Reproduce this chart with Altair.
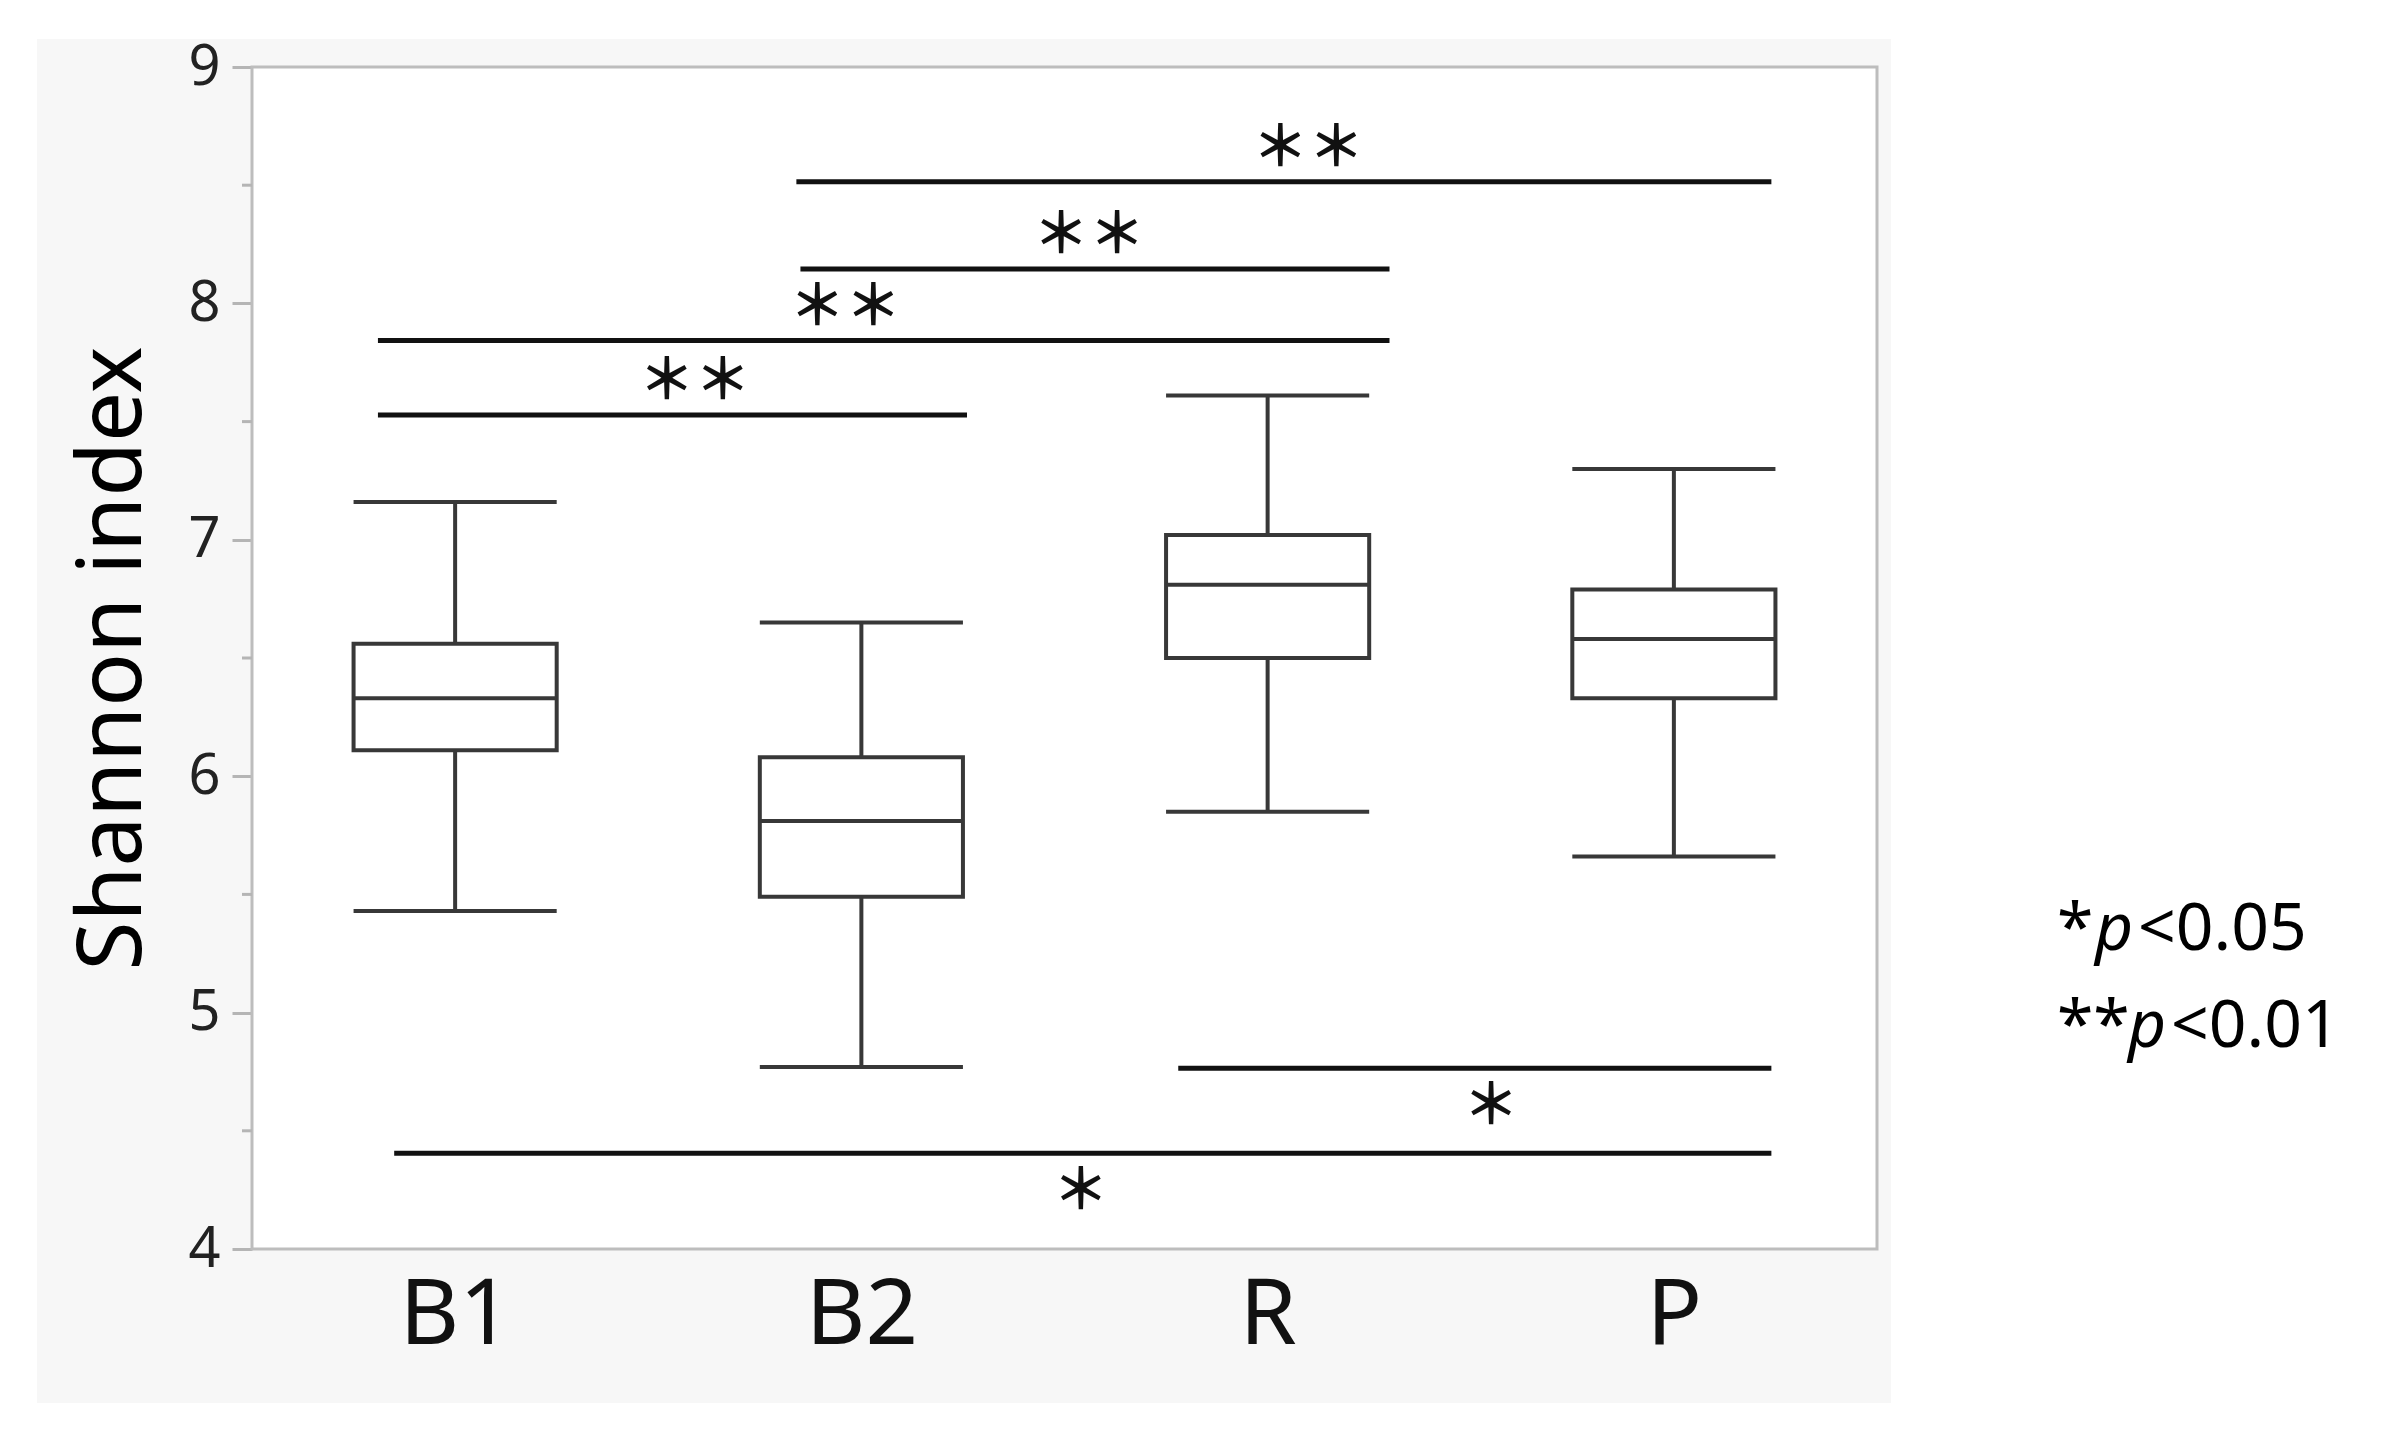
import altair as alt
import pandas as pd

# ---- data ----
groups = ["B1", "B2", "R", "P"]
whisker_low = [5.43, 4.77, 5.85, 5.66]
q1 = [6.11, 5.49, 6.50, 6.33]
median = [6.33, 5.81, 6.81, 6.58]
q3 = [6.56, 6.08, 7.02, 6.79]
whisker_high = [7.16, 6.65, 7.61, 7.30]

# significance bars (x in category units: 0..4, category i centred at i+0.5)
sig_labels = ["＊＊", "＊＊", "＊＊", "＊＊", "＊", "＊"]
sig_level = [8.515, 8.145, 7.843, 7.528, 4.765, 4.405]
sig_start = [1.34, 1.35, 0.31, 0.31, 2.28, 0.35]
sig_end = [3.74, 2.80, 2.80, 1.76, 3.74, 3.74]
sig_label_x = [2.60, 2.06, 1.46, 1.09, 3.05, 2.04]
sig_above = [True, True, True, True, False, False]

y_ticks = [4, 5, 6, 7, 8, 9]
y_minor = [4.5, 5.5, 6.5, 7.5, 8.5]

W, H = 1625, 1182
PAD_L, PAD_T, PAD_R, PAD_B = 244, 59, 490, 165
FONT = "Noto Sans"
BOX_COLOR = "#383838"
FRAME = "#bdbdbd"
PANEL = "#f7f7f7"

box = pd.DataFrame({
    "group": groups,
    "pos": [i + 0.5 for i in range(len(groups))],
    "lo": whisker_low, "q1": q1, "med": median, "q3": q3, "hi": whisker_high,
})
box["left"] = box["pos"] - 0.25
box["right"] = box["pos"] + 0.25

sig = pd.DataFrame({
    "label": sig_labels, "level": sig_level,
    "x0": sig_start, "x1": sig_end, "lx": sig_label_x, "above": sig_above,
})

one = pd.DataFrame({"k": [0]})
minor = pd.DataFrame({"v": y_minor})

xscale = alt.Scale(domain=[0, 4], nice=False, zero=False)
yscale = alt.Scale(domain=[4, 9], nice=False, zero=False)

label_expr = "[" + ",".join("'%s'" % g for g in groups) + "][floor(datum.value)]"

x_axis = alt.Axis(
    values=[i + 0.5 for i in range(len(groups))], labelExpr=label_expr,
    ticks=False, tickSize=0, domain=False, grid=False, title=None,
    labelFont=FONT, labelFontSize=92, labelColor="#111", labelPadding=21,
)
y_axis = alt.Axis(
    values=y_ticks, grid=False, domain=False, ticks=True, tickSize=20,
    tickWidth=3, tickColor="#b5b5b5", labelFont=FONT, labelFontSize=56,
    labelColor="#222", labelPadding=12, title="Shannon index",
    titleFont=FONT, titleFontSize=89, titleFontWeight="normal",
    titleColor="#000", titleX=-112, titleY=H / 2, titleAngle=270,
    titleBaseline="alphabetic", titleAlign="center",
)


def pixel_rect(x0, x1, y0, y1, **style):
    return alt.Chart(one).mark_rect(**style).encode(
        x=alt.value(x0), x2=alt.value(x1), y=alt.value(y0), y2=alt.value(y1),
    )


# chart background is the grey panel colour; white page areas drawn around it
covers = [
    pixel_rect(W + 14, W + PAD_R, -PAD_T, H + PAD_B, color="white"),   # right (key area)
    pixel_rect(-PAD_L, W + 14, -PAD_T, -28, color="white"),           # top strip
    pixel_rect(-PAD_L, -215, -PAD_T, H + PAD_B, color="white"),       # left strip
    pixel_rect(-PAD_L, W + 14, H + 154, H + PAD_B, color="white"),    # bottom strip
]
plot_bg = pixel_rect(0, W, 0, H, fill="white", stroke=FRAME, strokeWidth=3)

minor_ticks = alt.Chart(minor).mark_rule(color="#b5b5b5", strokeWidth=3).encode(
    y=alt.Y("v:Q", scale=yscale, axis=y_axis),
    x=alt.value(-10), x2=alt.value(0),
)

whisker = alt.Chart(box).mark_rule(color=BOX_COLOR, strokeWidth=4).encode(
    x=alt.X("pos:Q", scale=xscale, axis=x_axis),
    y=alt.Y("lo:Q", scale=yscale, axis=y_axis),
    y2="hi:Q",
)
body = alt.Chart(box).mark_rect(fill="white", stroke=BOX_COLOR, strokeWidth=4).encode(
    x=alt.X("left:Q", scale=xscale, axis=x_axis), x2="right:Q",
    y=alt.Y("q1:Q", scale=yscale, axis=y_axis), y2="q3:Q",
)
med_rule = alt.Chart(box).mark_rule(color=BOX_COLOR, strokeWidth=4).encode(
    x=alt.X("left:Q", scale=xscale, axis=x_axis), x2="right:Q",
    y=alt.Y("med:Q", scale=yscale, axis=y_axis),
)
cap_lo = alt.Chart(box).mark_rule(color=BOX_COLOR, strokeWidth=4).encode(
    x=alt.X("left:Q", scale=xscale, axis=x_axis), x2="right:Q",
    y=alt.Y("lo:Q", scale=yscale, axis=y_axis),
)
cap_hi = alt.Chart(box).mark_rule(color=BOX_COLOR, strokeWidth=4).encode(
    x=alt.X("left:Q", scale=xscale, axis=x_axis), x2="right:Q",
    y=alt.Y("hi:Q", scale=yscale, axis=y_axis),
)

sig_rules = alt.Chart(sig).mark_rule(color="#111", strokeWidth=5).encode(
    x=alt.X("x0:Q", scale=xscale, axis=x_axis), x2="x1:Q",
    y=alt.Y("level:Q", scale=yscale, axis=y_axis),
)
sig_text_above = alt.Chart(sig).transform_filter("datum.above").mark_text(
    font="Noto Sans CJK JP", fontSize=56, fontWeight="bold", color="#111",
    baseline="middle", align="center", dy=-33,
).encode(
    x=alt.X("lx:Q", scale=xscale, axis=x_axis),
    y=alt.Y("level:Q", scale=yscale, axis=y_axis),
    text="label:N",
)
sig_text_below = alt.Chart(sig).transform_filter("!datum.above").mark_text(
    font="Noto Sans CJK JP", fontSize=56, fontWeight="bold", color="#111",
    baseline="middle", align="center", dy=39,
).encode(
    x=alt.X("lx:Q", scale=xscale, axis=x_axis),
    y=alt.Y("level:Q", scale=yscale, axis=y_axis),
    text="label:N",
)


# p-value key on the right
def key_text(txt, x, y, italic=False):
    return alt.Chart(one).mark_text(
        text=txt, font=FONT, fontSize=66, color="#000", align="left",
        baseline="alphabetic", fontStyle="italic" if italic else "normal",
    ).encode(x=alt.value(x), y=alt.value(y))


key = [
    key_text("*", 1805, 883), key_text("p", 1843, 883, True), key_text("<0.05", 1886, 883),
    key_text("**", 1805, 980), key_text("p", 1876, 980, True), key_text("<0.01", 1919, 980),
]

chart = alt.layer(
    *covers, plot_bg, minor_ticks, whisker, body, med_rule, cap_lo, cap_hi,
    sig_rules, sig_text_above, sig_text_below, *key,
).properties(
    width=W, height=H,
    autosize=alt.AutoSizeParams(type="none"),
    padding={"left": PAD_L, "top": PAD_T, "right": PAD_R, "bottom": PAD_B},
).configure_view(stroke=None).configure(background=PANEL)

chart.save("out.html", embed_options={"renderer": "svg", "actions": False})
